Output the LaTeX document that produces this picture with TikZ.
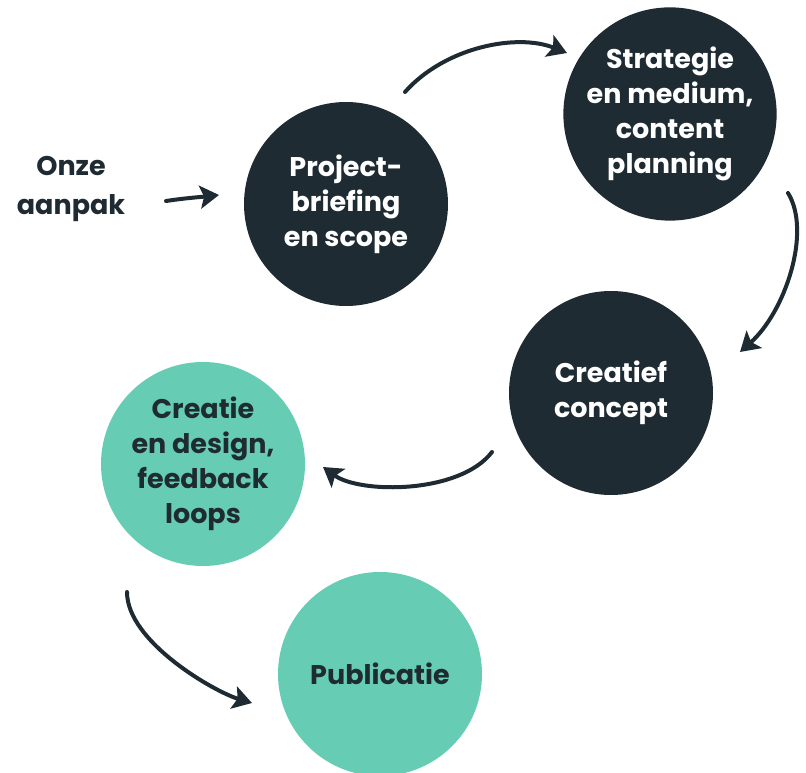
\documentclass[tikz,border=0pt]{standalone}
\usepackage{fontspec}
\setmainfont{Poppins}
\usetikzlibrary{arrows.meta,calc}
\definecolor{navy}{HTML}{1F2B33}
\definecolor{mint}{HTML}{66CDB4}

\begin{document}
\begin{tikzpicture}[x=1pt,y=1pt,
  stap/.style={circle,minimum size=204pt,inner sep=0pt,align=center,
    font=\bfseries\fontsize{27}{35}\selectfont},
  donker/.style={stap,fill=navy,text=white},
  licht/.style={stap,fill=mint,text=navy},
  pijl/.style={navy,line width=4pt,line cap=round,
    -{Stealth[length=19pt,width=23pt,inset=4pt]}}]
\useasboundingbox (0,0) rectangle (806,772);
\node[align=center,text=navy,font=\bfseries\fontsize{27}{39}\selectfont] (aanpak) at (71,583) {Onze\\aanpak};
\node[donker] (brief) at (346,568) {Project-\\briefing\\en scope};
\node[donker] (strat) at (670,658) {Strategie\\en medium,\\content\\planning};
\node[donker] (concept) at (611,379) {Creatief\\concept};
\node[licht] (design) at (203,308) {Creatie\\en design,\\feedback\\loops};
\node[licht] (publ) at (380,98) {Publicatie};
% pijlen
\draw[pijl] ($(brief)+(-180,3)$) .. controls +(20,3) and +(-18,-2) .. ($(brief)+(-127,9)$);
\draw[pijl] ($(brief)+(59,112)$) .. controls +(40,45) and +(-50,20) .. ($(strat)+(-103,61)$);
\draw[pijl] ($(strat)+(118,-79)$) .. controls +(24,-39) and +(45,40) .. ($(concept)+(129,41)$);
\draw[pijl] ($(concept)+(-119,-59)$) .. controls +(-32,-42) and +(37,-27) .. ($(design)+(120,-3)$);
\draw[pijl] ($(design)+(-76,-128)$) .. controls +(0,-50) and +(-37,11) .. ($(publ)+(-128,-29)$);
\end{tikzpicture}
\end{document}
